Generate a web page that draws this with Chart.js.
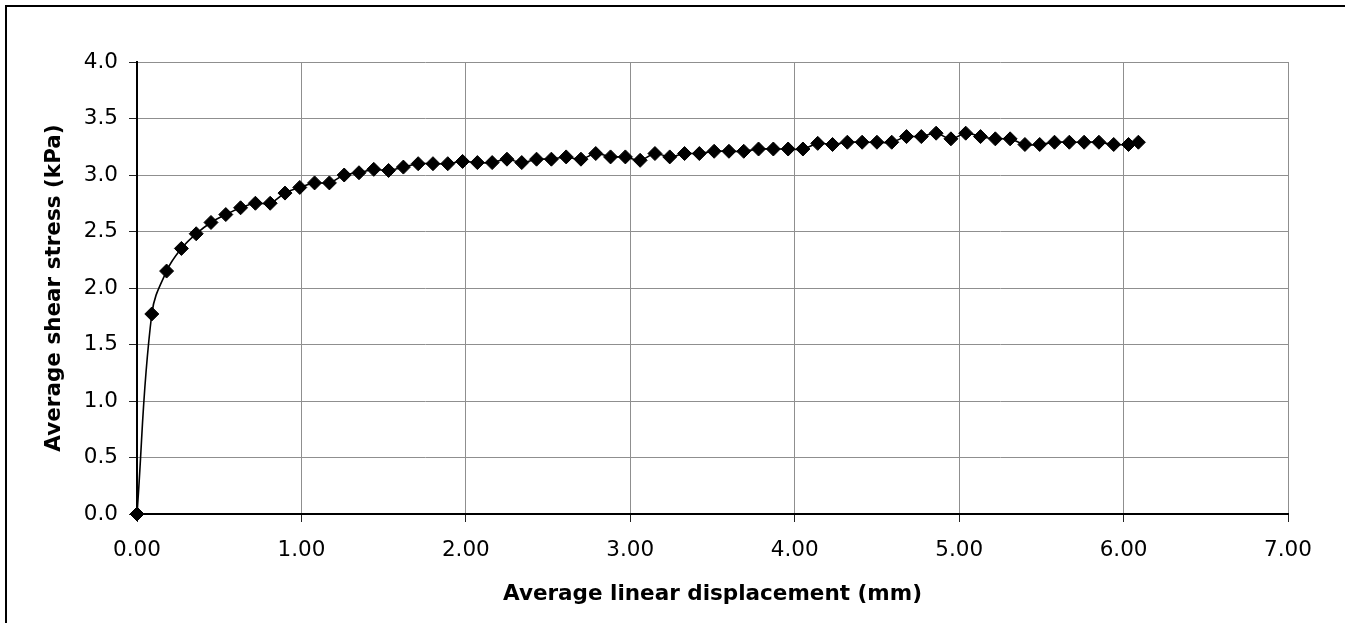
<!DOCTYPE html>
<html>
<head>
<meta charset="utf-8">
<script src="https://cdn.jsdelivr.net/npm/chart.js@4.4.1/dist/chart.umd.min.js"></script>
<style>
  html, body { margin: 0; padding: 0; background: #fff; overflow: hidden; }
  #wrap { position: relative; width: 1345px; height: 623px; }
  #frame { position: absolute; left: 5px; top: 5px; width: 1400px; height: 700px; border: 2px solid #000; }
  #chart { position: absolute; left: 0; top: 0; }
</style>
</head>
<body>
<div id="wrap">
  <div id="frame"></div>
  <canvas id="chart" width="1345" height="623"></canvas>
</div>
<script>
// Average linear displacement (mm) / average shear stress (kPa)
const displacement = [
  0.00, 0.09, 0.18, 0.27, 0.36, 0.45, 0.54, 0.63, 0.72, 0.81,
  0.90, 0.99, 1.08, 1.17, 1.26, 1.35, 1.44, 1.53, 1.62, 1.71,
  1.80, 1.89, 1.98, 2.07, 2.16, 2.25, 2.34, 2.43, 2.52, 2.61,
  2.70, 2.79, 2.88, 2.97, 3.06, 3.15, 3.24, 3.33, 3.42, 3.51,
  3.60, 3.69, 3.78, 3.87, 3.96, 4.05, 4.14, 4.23, 4.32, 4.41,
  4.50, 4.59, 4.68, 4.77, 4.86, 4.95, 5.04, 5.13, 5.22, 5.31,
  5.40, 5.49, 5.58, 5.67, 5.76, 5.85, 5.94, 6.03, 6.09
];
const shearStress = [
  0.00, 1.77, 2.15, 2.35, 2.48, 2.58, 2.65, 2.71, 2.75, 2.75,
  2.84, 2.89, 2.93, 2.93, 3.00, 3.02, 3.05, 3.04, 3.07, 3.10,
  3.10, 3.10, 3.12, 3.11, 3.11, 3.14, 3.11, 3.14, 3.14, 3.16,
  3.14, 3.19, 3.16, 3.16, 3.13, 3.19, 3.16, 3.19, 3.19, 3.21,
  3.21, 3.21, 3.23, 3.23, 3.23, 3.23, 3.28, 3.27, 3.29, 3.29,
  3.29, 3.29, 3.34, 3.34, 3.37, 3.32, 3.37, 3.34, 3.32, 3.32,
  3.27, 3.27, 3.29, 3.29, 3.29, 3.29, 3.27, 3.27, 3.29
];

const xMin = 0, xMax = 7, xStep = 1;
const yMin = 0, yMax = 4, yStep = 0.5;

const FONT = "'DejaVu Sans', Arial, sans-serif";
const GRID = '#8f8f8f';

const points = displacement.map((x, i) => ({ x: x, y: shearStress[i] }));

new Chart(document.getElementById('chart').getContext('2d'), {
  type: 'line',
  data: {
    datasets: [{
      data: points,
      borderColor: '#000',
      borderWidth: 1.6,
      backgroundColor: '#000',
      pointStyle: 'rectRot',
      pointRadius: 7,
      pointBorderWidth: 1,
      pointBackgroundColor: '#000',
      pointBorderColor: '#000',
      tension: 0.4,
      fill: false,
      clip: false
    }]
  },
  options: {
    responsive: false,
    animation: false,
    layout: { padding: { left: 0, top: 62, right: 57, bottom: 0 } },
    plugins: { legend: { display: false }, tooltip: { enabled: false } },
    scales: {
      x: {
        type: 'linear',
        min: xMin, max: xMax,
        afterFit: s => { s.height = 623 - 514; },
        ticks: {
          stepSize: xStep,
          color: '#000',
          font: { family: FONT, size: 21.5 },
          padding: 16,
          maxRotation: 0,
          callback: v => v.toFixed(2)
        },
        grid: { color: GRID, lineWidth: 1, tickLength: 8, tickColor: '#222' },
        border: { color: '#000', width: 2 },
        title: {
          display: true,
          text: 'Average linear displacement (mm)',
          color: '#000',
          font: { family: FONT, size: 21.5, weight: 'bold' },
          padding: { top: 0, bottom: 16 }
        }
      },
      y: {
        type: 'linear',
        min: yMin, max: yMax,
        afterFit: s => { s.width = 137; },
        ticks: {
          stepSize: yStep,
          color: '#000',
          font: { family: FONT, size: 21.5 },
          padding: 11,
          callback: v => v.toFixed(1)
        },
        grid: { color: GRID, lineWidth: 1, tickLength: 8, tickColor: '#222' },
        border: { color: '#000', width: 2 },
        title: {
          display: true,
          text: 'Average shear stress (kPa)',
          color: '#000',
          font: { family: FONT, size: 21.5, weight: 'bold' },
          padding: { top: 42, bottom: 0 }
        }
      }
    }
  }
});
</script>
</body>
</html>
